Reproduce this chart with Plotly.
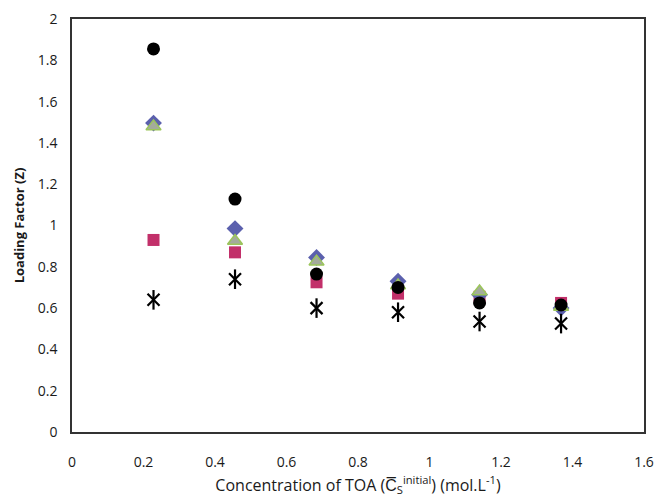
import plotly.graph_objects as go

x_conc = [0.228, 0.456, 0.684, 0.912, 1.14, 1.368]
z_circle = [1.855, 1.128, 0.765, 0.70, 0.625, 0.615]
z_diamond = [1.496, 0.985, 0.845, 0.73, 0.665, 0.60]
z_triangle = [1.48, 0.925, 0.825, 0.71, 0.68, 0.605]
z_square = [0.93, 0.87, 0.725, 0.67, 0.655, 0.625]
z_star = [0.64, 0.74, 0.60, 0.58, 0.535, 0.525]

x_ticks = [0, 0.2, 0.4, 0.6, 0.8, 1, 1.2, 1.4, 1.6]
x_ticklabels = ["0", "0.2", "0.4", "0.6", "0.8", "1", "1.2", "1.4", "1.6"]
y_ticks = [0, 0.2, 0.4, 0.6, 0.8, 1, 1.2, 1.4, 1.6, 1.8, 2]
y_ticklabels = ["0", "0.2", "0.4", "0.6", "0.8", "1", "1.2", "1.4", "1.6", "1.8", "2"]

fig = go.Figure()
fig.add_trace(go.Scatter(x=x_conc, y=z_square, mode="markers",
                         marker=dict(symbol="square", size=12, color="#c2306a",
                                     line=dict(width=0))))
fig.add_trace(go.Scatter(x=x_conc, y=z_diamond, mode="markers",
                         marker=dict(symbol="diamond", size=13, color="#5b60ad",
                                     line=dict(width=0))))
fig.add_trace(go.Scatter(x=x_conc, y=z_triangle, mode="markers",
                         marker=dict(symbol="triangle-up", size=13, color="#a4ab9c",
                                     line=dict(width=1.5, color="#9bc55a"))))
fig.add_trace(go.Scatter(x=x_conc, y=z_circle, mode="markers",
                         marker=dict(symbol="circle", size=13, color="black",
                                     line=dict(width=0))))
fig.add_trace(go.Scatter(x=x_conc, y=z_star, mode="markers",
                         marker=dict(symbol="x-thin-open", size=12, color="black",
                                     line=dict(width=2.2, color="black"))))
fig.add_trace(go.Scatter(x=x_conc, y=z_star, mode="markers",
                         marker=dict(symbol="line-ns-open", size=14, color="black",
                                     line=dict(width=2.2, color="black"))))

font_family = "Open Sans, Liberation Sans, sans-serif"
fig.update_layout(
    width=656, height=497,
    margin=dict(l=72, r=12, t=19, b=65),
    paper_bgcolor="white", plot_bgcolor="white",
    showlegend=False,
    font=dict(family=font_family, color="#1a1a1a"),
)
fig.update_xaxes(
    range=[0, 1.6], tickvals=x_ticks, ticktext=x_ticklabels,
    showgrid=False, zeroline=False, showline=True, mirror=True,
    linecolor="#333333", linewidth=1.5, ticks="", tickfont=dict(size=14),
    ticklabelstandoff=16, automargin=False,
    title=dict(text="Concentration of TOA (C\u0305<sub>S</sub><sup>initial</sup>) (mol.L<sup>-1</sup>)",
               font=dict(size=16), standoff=10),
)
fig.update_yaxes(
    range=[0, 2], tickvals=y_ticks, ticktext=y_ticklabels,
    showgrid=False, zeroline=False, showline=True, mirror=True,
    linecolor="#333333", linewidth=1.5, ticks="", tickfont=dict(size=14),
    ticklabelstandoff=10, automargin=False,
    title=dict(text="<b>Loading Factor (Z)</b>", font=dict(size=13), standoff=10),
)
fig.write_html("out.html")
